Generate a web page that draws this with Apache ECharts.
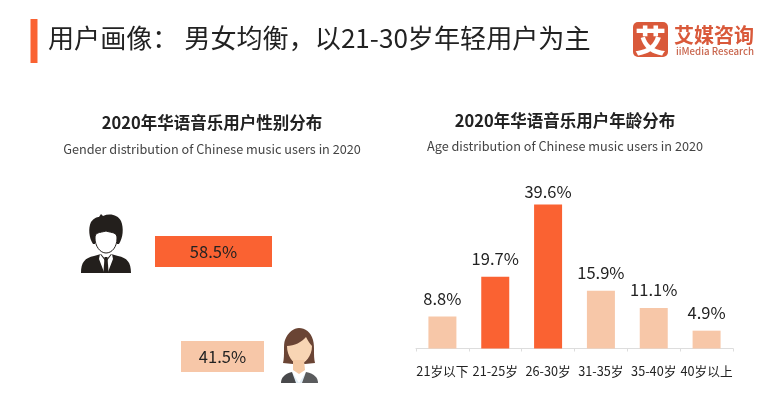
<!DOCTYPE html>
<html>
<head>
<meta charset="utf-8">
<title>用户画像</title>
<script src="https://cdn.jsdelivr.net/npm/echarts@6/dist/echarts.min.js"></script>
<style>
  html, body { margin: 0; padding: 0; background: #fff; }
  #chart { width: 769px; height: 400px; }
</style>
</head>
<body>
<div id="chart"></div>
<script>
var mainTitle = "用户画像： 男女均衡，以21-30岁年轻用户为主";
var genderTitle = "2020年华语音乐用户性别分布";
var genderSubtitle = "Gender distribution of Chinese music users in 2020";
var ageTitle = "2020年华语音乐用户年龄分布";
var ageSubtitle = "Age distribution of Chinese music users in 2020";

var ageCategories = ["21岁以下", "21-25岁", "26-30岁", "31-35岁", "35-40岁", "40岁以上"];
var ageValues = [8.8, 19.7, 39.6, 15.9, 11.1, 4.9];
var ageHighlight = ["21-25岁", "26-30岁"];
var maleValue = [58.5];
var femaleValue = [41.5];

var FONT = "'Noto Sans CJK SC', 'Noto Sans', sans-serif";
var ORANGE = "#FA6232";
var PEACH = "#F7C7A8";
var TEXT = "#222222";

function hiddenValueAxis(index) {
  return { type: "value", gridIndex: index, min: 0, max: 100, show: false };
}
function hiddenCatAxis(index) {
  return { type: "category", gridIndex: index, data: [""], show: false };
}
function genderSeries(index, values, color) {
  return {
    type: "bar",
    xAxisIndex: index,
    yAxisIndex: index,
    data: values,
    barWidth: 31,
    silent: true,
    itemStyle: { color: color },
    label: {
      show: true,
      position: "inside",
      formatter: "{c}%",
      color: TEXT,
      fontFamily: FONT,
      fontSize: 16.5
    }
  };
}

// graphic 组件没有 path 类型，先注册成自定义 shape
var shapeCount = 0;
function pathEl(d, style) {
  var name = "iconPath" + (shapeCount++);
  echarts.graphic.registerShape(name, echarts.graphic.extendPath(d, {}));
  return { type: name, style: style };
}

// 人物头像和 logo 只是装饰
var maleIcon = {
  type: "group",
  children: [
    pathEl("M81 273 C81 262 85 258 94 256 L101 254 L106 260 L111 254 L118 256 C127 258 131 262 131 273 Z", { fill: "#231F1C" }),
    pathEl("M100 254 L106 262 L112 254 L113 259 L108 272 L104 272 L99 259 Z", { fill: "#fff" }),
    pathEl("M104.5 257 L107.5 257 L108.5 272 L103.5 272 Z", { fill: "#231F1C" }),
    pathEl("M93 244 C89 238 88 228 91 222 C94 218 97 217 99 217 L101 214 L103 216 C110 213 118 215 121 221 C124 228 123 238 119 244 L117 244 L117 236 L95 236 L95 244 Z", { fill: "#231F1C" }),
    pathEl("M95 238 C95 232 99 233 106 231 C112 233 117 232 117 238 C117 247 112 253 106 253 C100 253 95 246 95 238 Z", { fill: "#fff", stroke: "#231F1C", lineWidth: 1 })
  ]
};
var femaleIcon = {
  type: "group",
  children: [
    pathEl("M283 363 C285 355 283 345 285 340 C288 332 294 328 299 328 C305 328 311 332 313 340 C315 347 313 355 315 363 L305 364 L293 364 Z", { fill: "#6A4434" }),
    pathEl("M287 346 C294 346 302 342 306 337 C308 341 310 344 312 346 C312 356 305 364 299 364 C293 364 287 356 287 346 Z", { fill: "#F8D5B4" }),
    pathEl("M293 360 L304 360 L305 370 L299 374 L293 370 Z", { fill: "#F4C9A4" }),
    pathEl("M292 372 L299 383 L306 372 L309 383 L289 383 Z", { fill: "#E3EEF6" }),
    pathEl("M281 383 C281 378 284 374 292 372 L296 383 Z", { fill: "#48494B" }),
    pathEl("M318 383 C318 378 315 374 306 372 L302 383 Z", { fill: "#5A5B5D" })
  ]
};
var logo = {
  type: "group",
  children: [
    { type: "rect", shape: { x: 633, y: 22, width: 35, height: 35, r: 5 }, style: { fill: "#D9593A" } },
    { type: "text", x: 650.5, y: 40, style: { text: "艾", font: "900 31px " + FONT, fill: "#fff", align: "center", verticalAlign: "middle" } },
    { type: "text", x: 674, y: 35, style: { text: "艾媒咨询", font: "700 20px " + FONT, fill: "#D9593A", verticalAlign: "middle" } },
    { type: "text", x: 676, y: 51, style: { text: "iiMedia Research", font: "500 9.7px " + FONT, fill: "#C9664E", verticalAlign: "middle" } }
  ]
};

var chart = echarts.init(document.getElementById("chart"));
chart.setOption({
  animation: false,
  backgroundColor: "#fff",
  graphic: [
    { type: "rect", shape: { x: 30.5, y: 19, width: 7, height: 44 }, style: { fill: ORANGE } },
    { type: "text", x: 48, y: 38, style: { text: mainTitle, font: "400 26.1px " + FONT, fill: TEXT, verticalAlign: "middle" } },
    { type: "text", x: 212, y: 123, style: { text: genderTitle, font: "700 16.5px " + FONT, fill: TEXT, align: "center", verticalAlign: "middle" } },
    { type: "text", x: 212, y: 149, style: { text: genderSubtitle, font: "400 12.7px " + FONT, fill: "#444", align: "center", verticalAlign: "middle" } },
    { type: "text", x: 565, y: 121, style: { text: ageTitle, font: "700 16.5px " + FONT, fill: TEXT, align: "center", verticalAlign: "middle" } },
    { type: "text", x: 565, y: 146, style: { text: ageSubtitle, font: "400 12.7px " + FONT, fill: "#444", align: "center", verticalAlign: "middle" } },
    maleIcon,
    femaleIcon,
    logo
  ],
  grid: [
    { left: 155, top: 236, width: 200, height: 31 },
    { left: 181, top: 341, width: 200, height: 31 },
    { left: 416, top: 203, width: 317, height: 145.5 }
  ],
  xAxis: [
    hiddenValueAxis(0),
    hiddenValueAxis(1),
    {
      type: "category",
      gridIndex: 2,
      data: ageCategories,
      axisLine: { lineStyle: { color: "#DDDDDD" } },
      axisTick: { show: true, length: 3, alignWithLabel: false, lineStyle: { color: "#DDDDDD" } },
      axisLabel: { interval: 0, color: TEXT, fontFamily: FONT, fontSize: 12.7, margin: 16 }
    }
  ],
  yAxis: [
    hiddenCatAxis(0),
    hiddenCatAxis(1),
    { type: "value", gridIndex: 2, min: 0, max: 40, show: false }
  ],
  series: [
    genderSeries(0, maleValue, ORANGE),
    genderSeries(1, femaleValue, PEACH),
    {
      type: "bar",
      xAxisIndex: 2,
      yAxisIndex: 2,
      barWidth: 28,
      silent: true,
      data: ageValues.map(function (v, i) {
        var on = ageHighlight.indexOf(ageCategories[i]) !== -1;
        // 最高的柱子标签贴得更近
        var gap = v === Math.max.apply(null, ageValues) ? 4 : 10;
        return { value: v, itemStyle: { color: on ? ORANGE : PEACH }, label: { distance: gap } };
      }),
      label: {
        show: true,
        position: "top",
        formatter: "{c}%",
        color: TEXT,
        fontFamily: FONT,
        fontSize: 16.5
      }
    }
  ]
});
</script>
</body>
</html>
